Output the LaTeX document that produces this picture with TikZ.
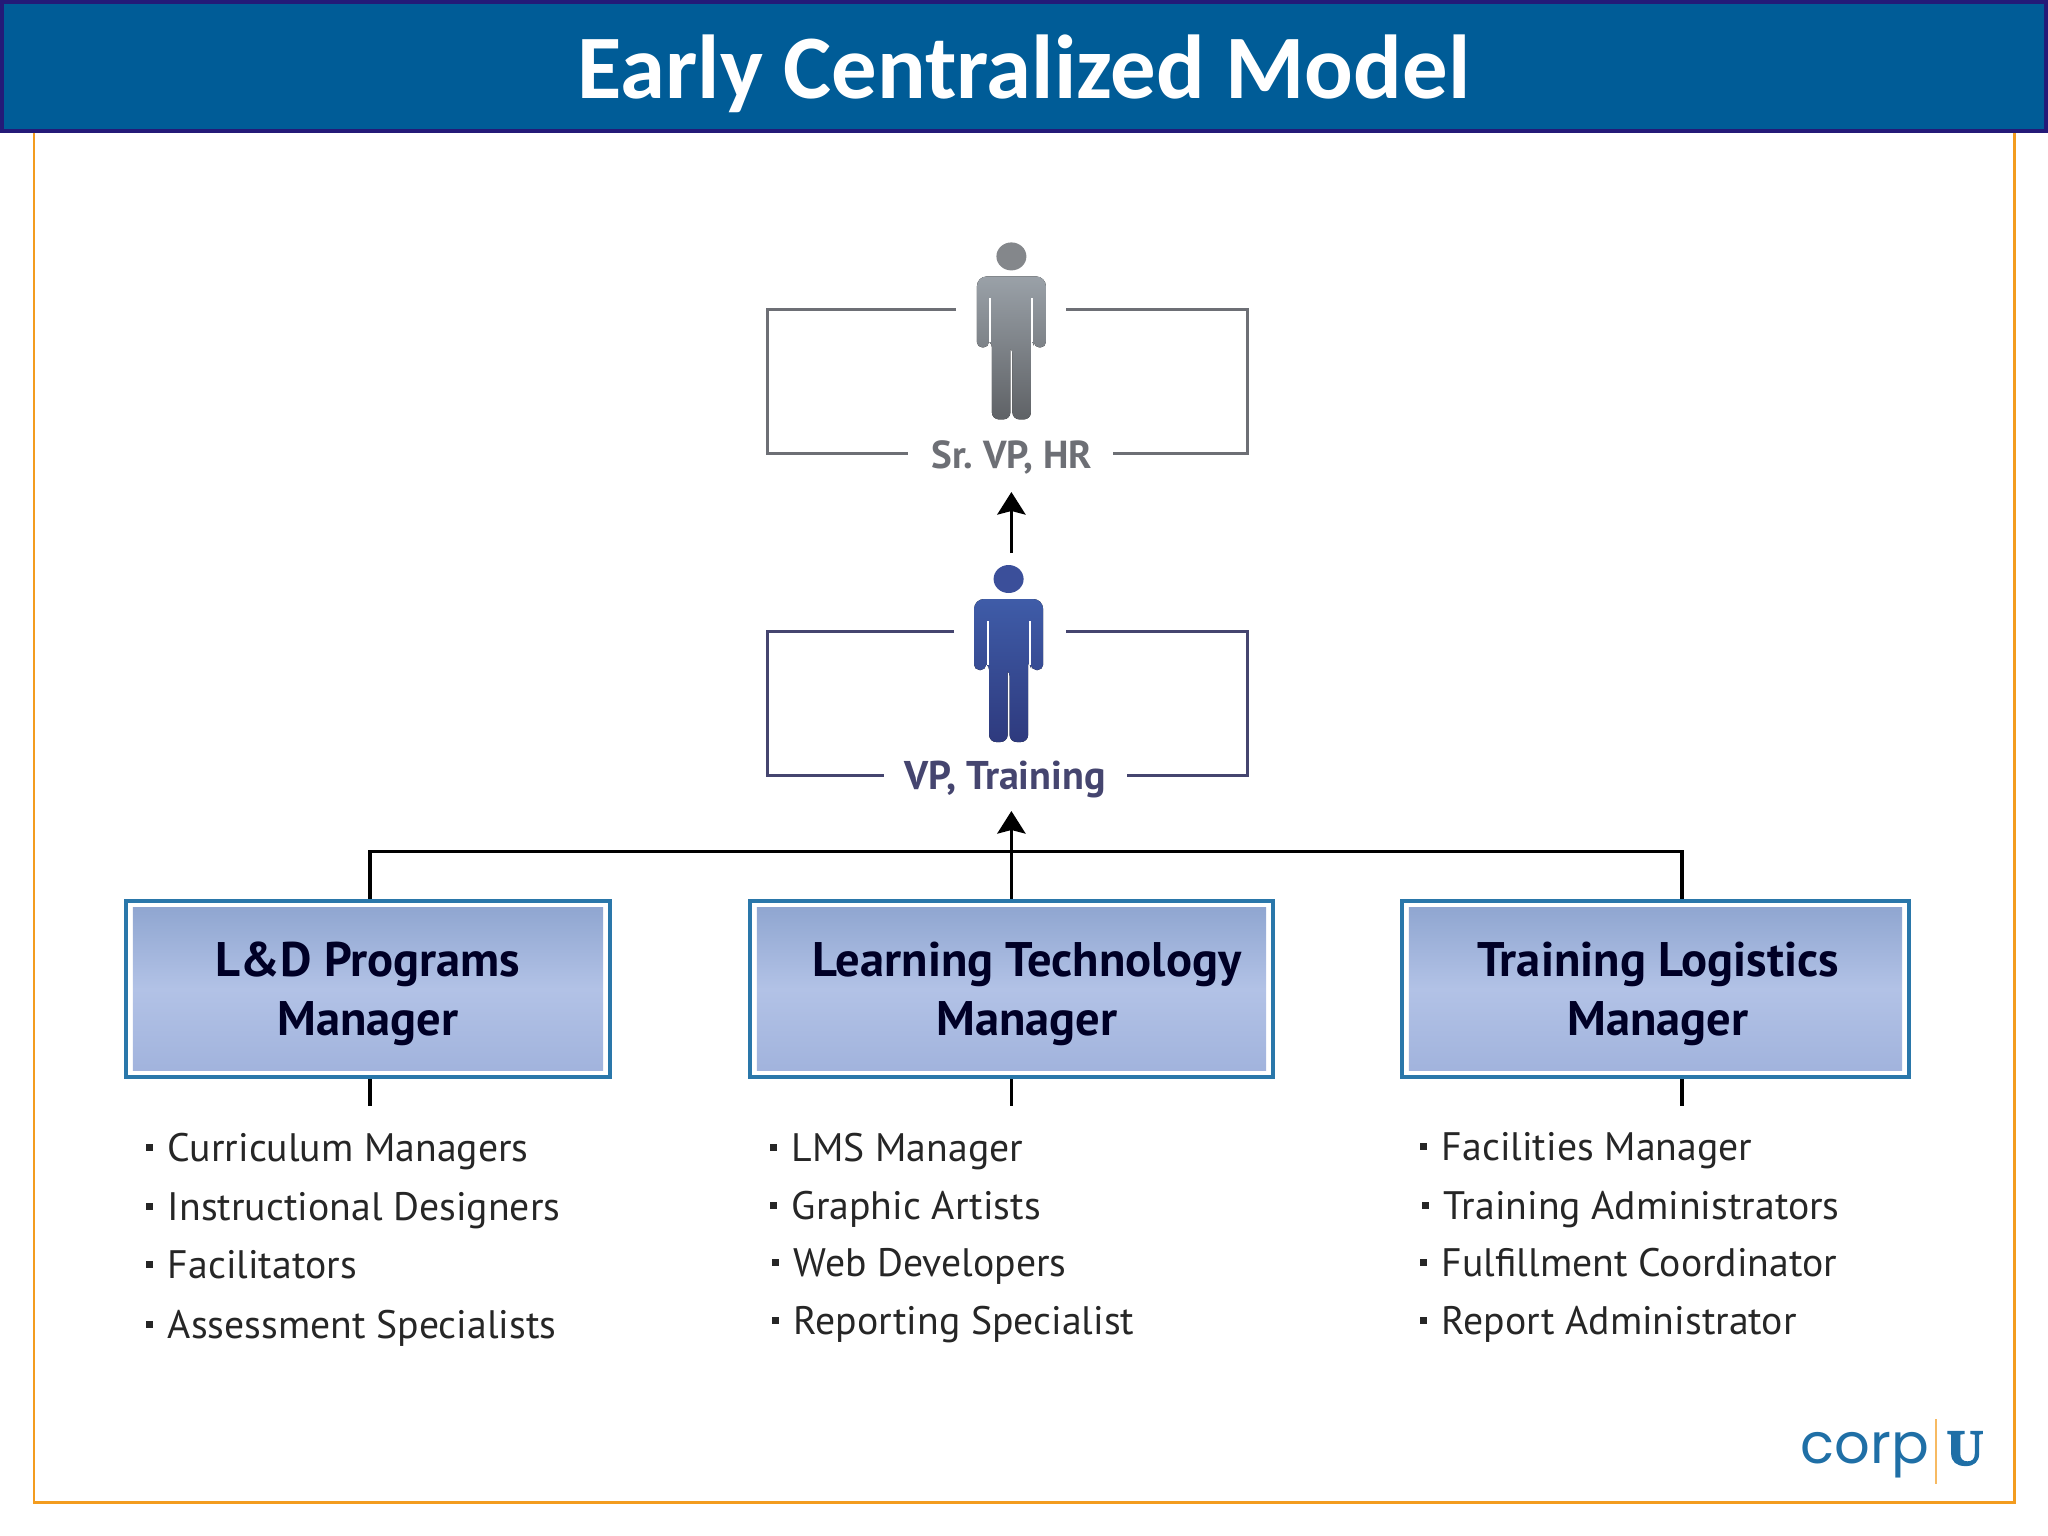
\documentclass[tikz,border=0pt]{standalone}
\usepackage{fontspec}
\usepackage{xcolor}
\usetikzlibrary{arrows.meta}
\setmainfont{PT Sans}
\newfontfamily\titlefont{Carlito}
\newfontfamily\logofont{Poppins}
\newfontfamily\logoufont[FakeBold=2.5]{Liberation Serif}
\definecolor{barfill}{HTML}{005C97}
\definecolor{barline}{HTML}{241A78}
\definecolor{framecol}{HTML}{F39C1F}
\definecolor{boxline}{HTML}{2A77AA}
\definecolor{srcol}{HTML}{6D6F75}
\definecolor{vpcol}{HTML}{45456F}
\definecolor{logocol}{HTML}{1F6FA6}
\definecolor{boxtop}{HTML}{8DA4CF}
\definecolor{boxmid}{HTML}{B2C2E6}
\definecolor{boxbot}{HTML}{A0B2DC}
\definecolor{srtop}{HTML}{9AA1A8}
\definecolor{srbot}{HTML}{5F6266}
\definecolor{srhead}{HTML}{84878B}
\definecolor{vptop}{HTML}{3F5CA8}
\definecolor{vpbot}{HTML}{2E3A7E}
\definecolor{vphead}{HTML}{3B4F9A}
\newcommand{\sqbul}{\raisebox{0.26em}{\rule{2pt}{2pt}}\hspace{4.3pt}}
% person: head centre, head colour, top colour, bottom colour
\newcommand{\personfig}[4]{
\begin{scope}[shift={#1}]
\fill[#2] (0,0) ellipse (15 and 14);
\fill[top color=#3, bottom color=#4] (0,20) [rounded corners=2.8pt] --(34.5,20) [rounded corners=1.5pt] --(34.5,91)--(22.5,91)--(22.5,84) [sharp corners] --(19.5,84) [rounded corners=2pt] --(19.5,163)--(1,163) --(1,90) [sharp corners] --(-1,90) [rounded corners=2pt] --(-1,163)--(-19.5,163)--(-19.5,84) [sharp corners] --(-22.5,84) [rounded corners=1.5pt] --(-22.5,91)--(-34.5,91) [rounded corners=2.8pt] --(-34.5,20)--(-5,20) [sharp corners] --(0,20)--cycle;
\draw[white, line width=0.6pt] (-21,42)--(-21,86);
\draw[white, line width=0.6pt] (21,42)--(21,86);
\end{scope}}
\tikzset{
titlebar/.style={draw=barline, fill=barfill, line width=1.3pt, minimum width=20.44cm, minimum height=1.29cm},
titletext/.style={text=white, font=\titlefont\bfseries\fontsize{25.8}{30}\selectfont},
rolebox/.style={draw=boxline, fill=white, line width=1.14pt, minimum height=1.76cm,
  path picture={\shade[top color=boxtop, bottom color=boxbot, middle color=boxmid] ([shift={(2pt,2pt)}]path picture bounding box.south west) rectangle ([shift={(-2pt,-2pt)}]path picture bounding box.north east);}},
boxtext/.style={align=center, text=black!85!blue, font=\bfseries\fontsize{13.8}{16.7}\selectfont},
listitem/.style={anchor=base west, inner sep=0pt, text=black!85, font=\fontsize{11.3}{14}\selectfont},
srlabel/.style={text=srcol, font=\bfseries\fontsize{11.1}{13}\selectfont},
vplabel/.style={text=vpcol, font=\bfseries\fontsize{11.4}{13}\selectfont},
framepart/.style={line width=0.85pt},
link/.style={black, line width=1pt},
uparrow/.style={link, -{Stealth[length=6.4pt, width=8pt, inset=1pt]}}
}
\begin{document}
\begin{tikzpicture}[x=0.01cm,y=-0.01cm]
\useasboundingbox (0,0) rectangle (2048,1536);
\draw[framecol, line width=0.85pt] (34,120)--(34,1502)--(2014,1502)--(2014,120);
\node[titlebar] (bar) at (1024,66.5) {};
\node[titletext] (title) at (1024,74) {Early Centralized Model};

% top person
\personfig{(1011.4,256.4)}{srhead}{srtop}{srbot}
\draw[srcol, framepart] (956,309)--(767,309)--(767,453)--(908,453);
\draw[srcol, framepart] (1066,309)--(1247,309)--(1247,453)--(1113,453);
\node[srlabel] (srvp) at (1012,457) {Sr.\ VP, HR};

% vp person
\personfig{(1008.6,579)}{vphead}{vptop}{vpbot}
\draw[vpcol, framepart] (954,631)--(767,631)--(767,775)--(884,775);
\draw[vpcol, framepart] (1066,631)--(1247,631)--(1247,775)--(1127,775);
\node[vplabel] (vptrain) at (1005,779) {VP, Training};

% boxes
\node[rolebox, minimum width=4.84cm] (progbox) at (368,989) {};
\node[rolebox, minimum width=5.23cm] (techbox) at (1011.5,989) {};
\node[rolebox, minimum width=5.07cm] (logbox) at (1655.5,989) {};
\node[boxtext] (progtxt) at (368,994) {L\&D Programs\\Manager};
\node[boxtext] (techtxt) at (1027,994) {Learning Technology\\Manager};
\node[boxtext] (logtxt) at (1658,994) {Training Logistics\\Manager};

% arrows and lines
\coordinate (srtip) at (1011.4,492);
\coordinate (srbase) at (1011.4,553);
\coordinate (vptip) at (1011.4,811);
\coordinate (barleft) at (370,851.5);
\coordinate (barright) at (1682,851.5);
\coordinate (proglow) at (370,1106);
\coordinate (techlow) at (1011.4,1106);
\coordinate (loglow) at (1682,1106);
\draw[uparrow] (srbase)--(srtip);
\draw[uparrow] (techbox.north -| vptip)--(vptip);
\draw[link] (progbox.north -| barleft)--(barleft)--(barright)--(logbox.north -| barright);
\draw[link] (progbox.south -| proglow)--(proglow);
\draw[link] (techbox.south -| techlow)--(techlow);
\draw[link] (logbox.south -| loglow)--(loglow);

% lists
\node[listitem] (a1) at (145,1161) {\sqbul Curriculum Managers};
\node[listitem] (a2) at (145,1220) {\sqbul Instructional Designers};
\node[listitem] (a3) at (145,1278) {\sqbul Facilitators};
\node[listitem] (a4) at (145,1338) {\sqbul Assessment Specialists};
\node[listitem] (b1) at (769,1161) {\sqbul LMS Manager};
\node[listitem] (b2) at (769,1219) {\sqbul Graphic Artists};
\node[listitem] (b3) at (771,1276) {\sqbul Web Developers};
\node[listitem] (b4) at (771,1334) {\sqbul Reporting Specialist};
\node[listitem] (c1) at (1419,1160) {\sqbul Facilities Manager};
\node[listitem] (c2) at (1421,1219) {\sqbul Training Administrators};
\node[listitem] (c3) at (1419,1276) {\sqbul Fulfillment Coordinator};
\node[listitem] (c4) at (1419,1334) {\sqbul Report Administrator};

% logo
\node[anchor=base west, inner sep=0pt, text=logocol, font=\logofont\fontsize{15.9}{16}\selectfont] (corp) at (1800,1463) {corp};
\draw[framecol!70, line width=0.4pt] (1936,1419)--(1936,1484);
\node[anchor=base west, inner sep=0pt, text=logocol, font=\logoufont\bfseries\fontsize{14.5}{16}\selectfont] (logou) at (1946,1465) {U};
\end{tikzpicture}
\end{document}
